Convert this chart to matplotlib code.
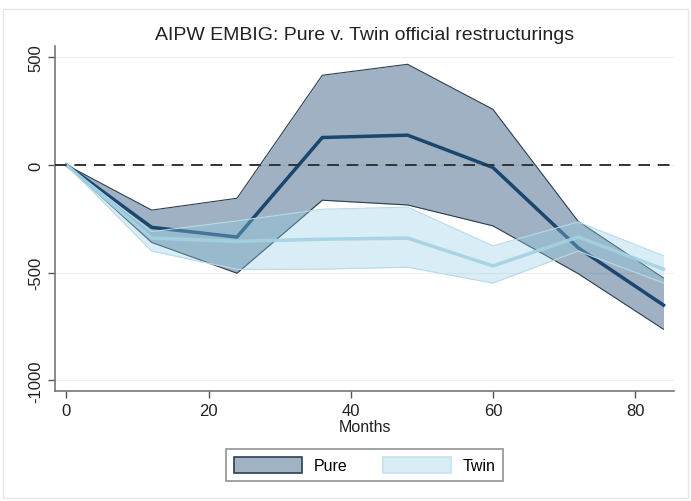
import matplotlib.pyplot as plt
from matplotlib.patches import Patch
import numpy as np

plt.rcParams['font.family'] = ['Liberation Sans', 'DejaVu Sans']

months = [0, 12, 24, 36, 48, 60, 72, 84]

# AIPW estimates and confidence bands
pure_est = [0, -290, -335, 127, 138, -12, -385, -651]
pure_hi = [0, -210, -155, 416, 467, 258, -262, -525]
pure_lo = [0, -360, -503, -164, -186, -283, -505, -763]

twin_est = [0, -340, -355, -345, -340, -469, -335, -484]
twin_hi = [0, -310, -260, -206, -196, -376, -265, -422]
twin_lo = [0, -400, -485, -484, -475, -549, -400, -548]

yticks = [500, 0, -500, -1000]
xticks = [0, 20, 40, 60, 80]

navy = '#1a476f'
pure_fill = '#1a476f'
twin_fill = '#90cde3'
twin_line = '#a4d2e2'

fig = plt.figure(figsize=(6.91, 5.02), dpi=100)
ax = fig.add_axes([0.0796, 0.219, 0.896, 0.687])

# gridlines at the y ticks
for yv in yticks:
    ax.axhline(yv, color='#eeeeee', lw=0.8, zorder=0)

ax.fill_between(months, pure_lo, pure_hi, color=pure_fill, alpha=0.42,
                lw=0, zorder=1)
ax.plot(months, pure_hi, color='#2c3e50', lw=0.8, zorder=2)
ax.plot(months, pure_lo, color='#2c3e50', lw=0.8, zorder=2)
ax.plot(months, pure_est, color=navy, lw=2.5, zorder=3)

ax.fill_between(months, twin_lo, twin_hi, color=twin_fill, alpha=0.35,
                lw=0, zorder=4)
ax.plot(months, twin_hi, color='#b7dbe8', lw=0.8, zorder=4)
ax.plot(months, twin_lo, color='#b7dbe8', lw=0.8, zorder=4)
ax.plot(months, twin_est, color=twin_line, lw=2.5, alpha=0.9, zorder=5)

ax.axhline(0, color='#333333', lw=1.4, dashes=(6, 4), zorder=6)

ax.set_xlim(-1.6, 85.5)
ax.set_ylim(-1050, 551)
ax.set_xticks(xticks)
ax.set_yticks(yticks)
ax.set_yticklabels([str(v) for v in yticks], rotation=90, va='center')
ax.tick_params(axis='both', colors='#555555', labelcolor='#222222',
               labelsize=12, length=5, width=1)
for s in ['top', 'right']:
    ax.spines[s].set_visible(False)
for s in ['left', 'bottom']:
    ax.spines[s].set_color('#777777')
    ax.spines[s].set_linewidth(1.2)

ax.set_xlabel('Months', fontsize=11.5, color='#222222', labelpad=1)
ax.set_title('AIPW EMBIG: Pure v. Twin official restructurings',
             fontsize=14, color='#222222', pad=5)

handles = [Patch(facecolor='#a0b3c5', edgecolor='#2c3e50', lw=1.2),
           Patch(facecolor='#d8edf5', edgecolor='#c5e2ec', lw=1.2)]
leg = fig.legend(handles, ['Pure', 'Twin'], loc='center',
                 bbox_to_anchor=(0.5275, 0.071), ncol=2, fontsize=11.5,
                 handlelength=4.3, handleheight=1.1, columnspacing=2.2,
                 handletextpad=0.7, frameon=True, fancybox=False,
                 borderpad=0.5)
leg.get_frame().set_edgecolor('#777777')
leg.get_frame().set_linewidth(1.2)

# light outer frame
fig.patches.append(plt.Rectangle((0.005, 0.005), 0.99, 0.975,
                                 transform=fig.transFigure, fill=False,
                                 edgecolor='#e6e6e6', lw=1))

fig.savefig('out.png', dpi=100)
